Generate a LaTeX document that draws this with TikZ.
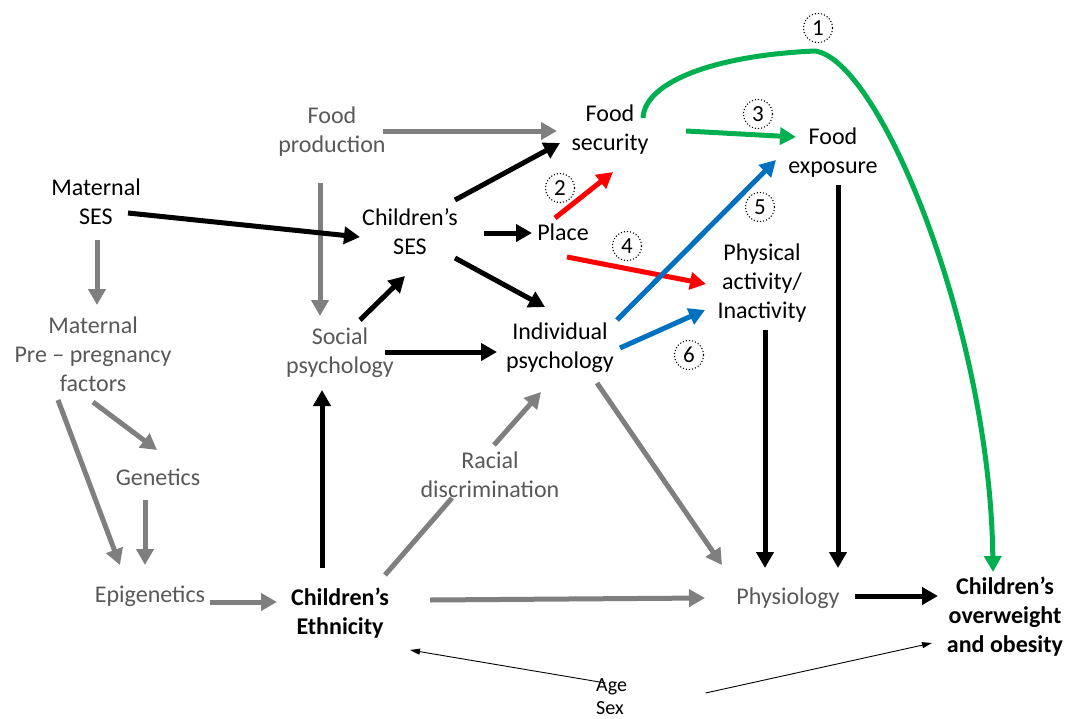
\documentclass[tikz,border=0pt]{standalone}
\usepackage{fontspec}
\setmainfont{Carlito}
\usetikzlibrary{arrows.meta}

\definecolor{arrowgray}{HTML}{7F7F7F}
\definecolor{textgray}{HTML}{595959}
\definecolor{pathred}{HTML}{FF0000}
\definecolor{pathgreen}{HTML}{00B050}
\definecolor{pathblue}{HTML}{0070C0}

% point offset from a node centre
\newcommand{\relpt}[3]{([shift={(#2,#3)}]#1.center)}

\begin{document}
\begin{tikzpicture}[x=1pt,y=-1pt,
  lbl/.style={font=\fontsize{24}{29}\selectfont, align=center, inner sep=0pt},
  glbl/.style={lbl, text=textgray},
  boldlbl/.style={lbl, font=\fontsize{24}{29}\selectfont\bfseries},
  conn/.style={line width=5pt, -{Triangle[length=16pt,width=17pt]}},
  gconn/.style={conn, draw=arrowgray},
  kconn/.style={conn, draw=black},
  rconn/.style={conn, draw=pathred},
  bconn/.style={conn, draw=pathblue},
  grconn/.style={conn, draw=pathgreen},
  thinconn/.style={line width=0.9pt, -{Triangle[length=10pt,width=6pt]}},
  num/.style={circle, draw, dotted, line width=1.1pt, minimum size=29pt,
    inner sep=0pt, font=\fontsize{23}{23}\selectfont}]

\useasboundingbox (0,0) rectangle (1076,718);
\fill[white] (0,0) rectangle (1076,718);

% factors
\node[glbl] (fprod) at (332,132) {Food\\production};
\node[lbl] (fsec) at (610,130) {Food\\security};
\node[lbl] (fexp) at (833,153) {Food\\exposure};
\node[lbl] (mses) at (96,202) {Maternal\\SES};
\node[lbl] (cses) at (410,232) {Children’s\\SES};
\node[lbl] (place) at (563,232) {Place};
\node[lbl] (phys) at (762,283) {Physical\\activity/\\Inactivity};
\node[glbl] (mpre) at (93,354) {Maternal\\Pre – pregnancy\\factors};
\node[glbl] (socp) at (340,353) {Social\\psychology};
\node[lbl] (indp) at (560,348) {Individual\\psychology};
\node[glbl] (gen) at (158,477) {Genetics};
\node[glbl] (racial) at (490,475) {Racial\\discrimination};
\node[glbl] (epi) at (150,596) {Epigenetics};
\node[boldlbl] (eth) at (340,613) {Children’s\\Ethnicity};
\node[glbl] (physio) at (788,598) {Physiology};
\node[boldlbl] (over) at (1005,617) {Children’s\\overweight\\and obesity};
\node[lbl, font=\fontsize{20}{23}\selectfont, align=left, anchor=west] (agesex) at (596,697) {Age\\Sex};

% pathway numbers
\node[num] (n1) at (818,28) {1};
\node[num] (n2) at (560,188) {2};
\node[num] (n3) at (758,114) {3};
\node[num] (n4) at (627,246) {4};
\node[num] (n5) at (760,207) {5};
\node[num] (n6) at (689,355) {6};

% grey links
\draw[gconn] \relpt{fprod}{51}{-1} -- \relpt{fsec}{-53}{1};
\draw[gconn] \relpt{fprod}{-12}{51} -- \relpt{socp}{-20}{-37};
\draw[gconn] \relpt{mses}{1}{38} -- \relpt{mpre}{4}{-49};
\draw[gconn] \relpt{mpre}{0}{48} -- \relpt{gen}{-1}{-27};
\draw[gconn] \relpt{mpre}{-35}{46} -- \relpt{epi}{-30}{-31};
\draw[gconn] \relpt{gen}{-13}{23} -- \relpt{epi}{-5}{-31};
\draw[gconn] \relpt{epi}{60}{6} -- \relpt{eth}{-63}{-11};
\draw[gconn, -] \relpt{eth}{45}{-38} -- \relpt{racial}{-38}{23};
\draw[gconn] \relpt{racial}{4}{-30} -- \relpt{indp}{-19}{44};
\draw[gconn] \relpt{eth}{90}{-13} -- \relpt{physio}{-83}{0};
\draw[gconn] \relpt{indp}{37}{35} -- \relpt{physio}{-66}{-33};

% black links
\draw[kconn] \relpt{mses}{32}{11} -- \relpt{cses}{-50}{5};
\draw[kconn] \relpt{cses}{45}{-32} -- \relpt{fsec}{-50}{13};
\draw[kconn] \relpt{cses}{74}{1} -- \relpt{place}{-31}{1};
\draw[kconn] \relpt{cses}{45}{26} -- \relpt{indp}{-15}{-41};
\draw[kconn] \relpt{socp}{20}{-33} -- \relpt{cses}{-5}{44};
\draw[kconn] \relpt{socp}{45}{-1} -- \relpt{indp}{-63}{4};
\draw[kconn] \relpt{eth}{-18}{-45} -- \relpt{socp}{-18}{37};
\draw[kconn] \relpt{phys}{3}{47} -- \relpt{physio}{-23}{-30};
\draw[kconn] \relpt{fexp}{5}{32} -- \relpt{physio}{50}{-30};
\draw[kconn] \relpt{physio}{67}{-2} -- \relpt{over}{-67}{-21};

% coloured pathways
\draw[rconn] \relpt{place}{-8}{-14} -- \relpt{fsec}{3}{42};
\draw[rconn] \relpt{place}{4}{25} -- \relpt{phys}{-56}{1};
\draw[bconn] \relpt{indp}{57}{-28} -- \relpt{fexp}{-57}{7};
\draw[bconn] \relpt{indp}{60}{0} -- \relpt{phys}{-57}{27};
\draw[grconn] \relpt{fsec}{76}{1} -- \relpt{fexp}{-37}{-16};
\draw[grconn] \relpt{fsec}{33}{-12}
  .. controls (645,80) and (720,55) .. (815,51)
  .. controls (880,60) and (990,330) .. \relpt{over}{-12}{-45};

% age and sex
\draw[thinconn] \relpt{agesex}{-6}{-14} -- \relpt{eth}{70}{37};
\draw[thinconn] \relpt{agesex}{94}{-4} -- \relpt{over}{-73}{26};

\end{tikzpicture}
\end{document}
